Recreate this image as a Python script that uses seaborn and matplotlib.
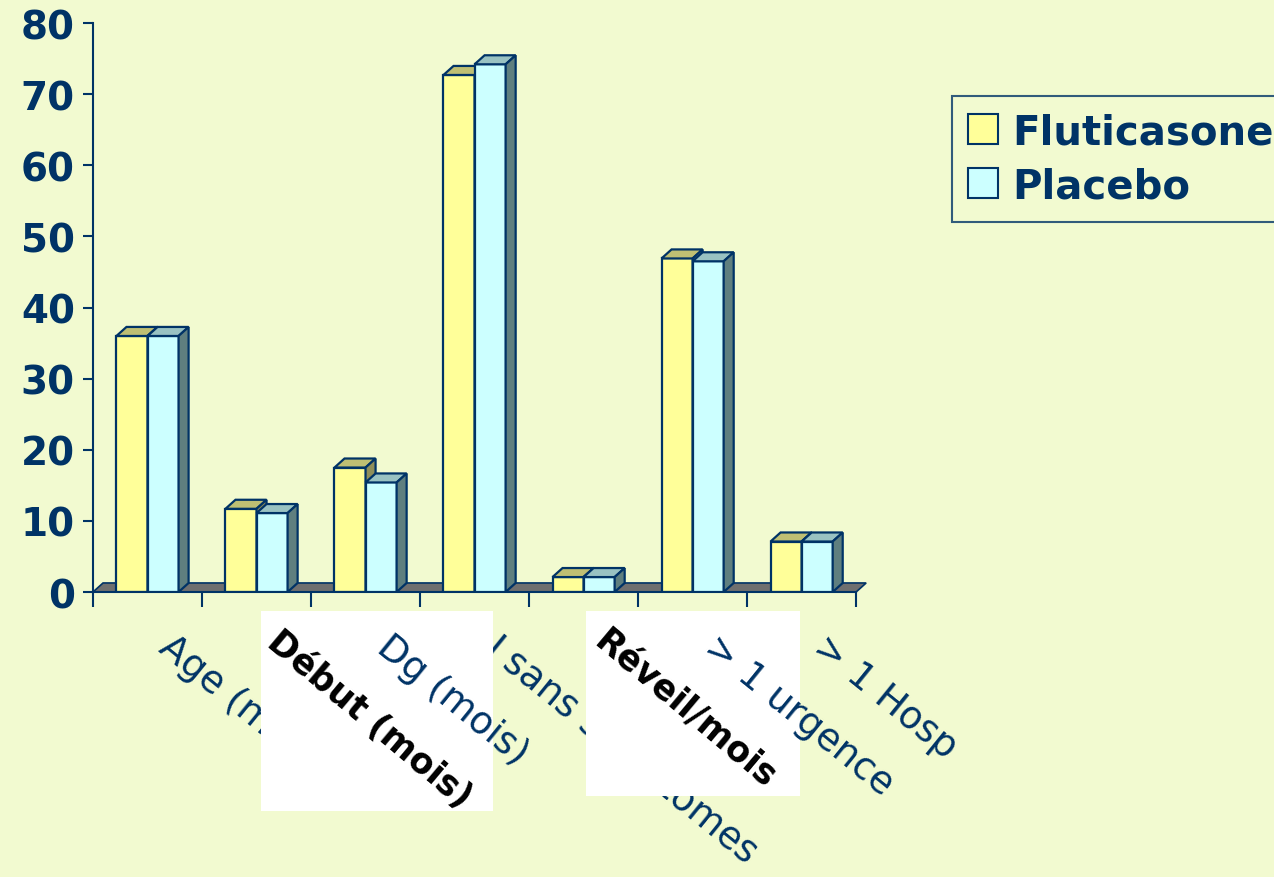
import numpy as np
import pandas as pd
import seaborn as sns
import matplotlib.pyplot as plt
from matplotlib.patches import Polygon, Rectangle, Patch

# donnees
categories = ["Age (mois)", "Début (mois)", "Dg (mois)", "J sans symptomes",
              "Réveil/mois", "> 1 urgence", "> 1 Hosp"]
fluticasone = [36.0, 11.7, 17.5, 72.7, 2.1, 46.9, 7.1]
placebo = [36.0, 11.1, 15.4, 74.2, 2.1, 46.5, 7.1]
groupes = ["Fluticasone", "Placebo"]
yticks = [0, 10, 20, 30, 40, 50, 60, 70, 80]
# labels that were pasted on white patches in the original slide
colles = ["Début (mois)", "Réveil/mois"]

fond = "#F2FAD0"
navy = "#003366"
couleurs = ["#FFFF99", "#CCFFFF"]
dessus = ["#BFBF73", "#99C2C2"]
cote = ["#8F8F5A", "#5F7F7F"]

df = pd.DataFrame({
    "cat": categories * 2,
    "val": fluticasone + placebo,
    "grp": [groupes[0]] * len(categories) + [groupes[1]] * len(categories),
})

sns.set_style("white")
plt.rcParams["font.family"] = ["DejaVu Sans"]

fig = plt.figure(figsize=(12.74, 8.78), dpi=100, facecolor=fond)
ax = fig.add_axes([0.073, 0.3246, 0.599, 0.648])
ax.set_facecolor(fond)

sns.barplot(data=df, x="cat", y="val", hue="grp", palette=couleurs,
            width=0.57, edgecolor=navy, linewidth=1.6, saturation=1,
            legend=False, ax=ax)

ax.set_xlim(-0.5, len(categories) - 0.5)
ax.set_ylim(0, 80)

# fake 3D: depth offset in data units
dx, dy = 0.092, 1.27

# floor
sol = Polygon([(-0.5, 0), (len(categories) - 0.5, 0),
               (len(categories) - 0.5 + dx, dy), (-0.5 + dx, dy)],
              closed=True, facecolor="#6F6F6F", edgecolor=navy, lw=1.2,
              zorder=1.5, clip_on=False)
ax.add_patch(sol)

n = len(categories)
for i, p in enumerate(ax.patches[:2 * n]):
    g = i // n
    z = 2 + g
    p.set_zorder(z)
    x0, w, h = p.get_x(), p.get_width(), p.get_height()
    top = Polygon([(x0, h), (x0 + w, h), (x0 + w + dx, h + dy), (x0 + dx, h + dy)],
                  closed=True, facecolor=dessus[g], edgecolor=navy, lw=1.6,
                  zorder=z + 0.1, clip_on=False)
    side = Polygon([(x0 + w, 0), (x0 + w + dx, dy), (x0 + w + dx, h + dy), (x0 + w, h)],
                   closed=True, facecolor=cote[g], edgecolor=navy, lw=1.6,
                   zorder=z + 0.1, clip_on=False)
    ax.add_patch(top)
    ax.add_patch(side)

sns.despine(ax=ax)
ax.spines["left"].set_color(navy)
ax.spines["left"].set_linewidth(1.5)
ax.spines["bottom"].set_color(navy)
ax.spines["bottom"].set_linewidth(1.5)

ax.set_yticks(yticks)
ax.set_yticklabels([str(v) for v in yticks], fontsize=28, fontweight="bold", color=navy)
ax.tick_params(axis="y", direction="out", length=7, width=1.5, color=navy, pad=6, left=True)

ax.set_xticks(np.arange(n))
ax.set_xticklabels([""] * n)
ax.set_xticks(np.arange(n + 1) - 0.5, minor=True)
ax.tick_params(axis="x", which="major", length=0)
ax.tick_params(axis="x", which="minor", direction="out", length=11, width=1.5,
               color=navy, bottom=True)
ax.set_xlabel("")
ax.set_ylabel("")

# white pasted patches (figure level, above the axes)
boites = [(0.205, 0.0752, 0.182, 0.228), (0.46, 0.0923, 0.168, 0.211)]
for bx, by, bw, bh in boites:
    fig.patches.append(Rectangle((bx, by), bw, bh, transform=fig.transFigure,
                                 facecolor="white", edgecolor="none", zorder=5))

# category labels, rotated; the label right after a pasted one sits on top of the patch
for i, c in enumerate(categories):
    if c in colles:
        continue
    z = 7 if (i > 0 and categories[i - 1] in colles) else 4
    fig.text(i + 0.25, -0.064, c, transform=ax.get_xaxis_transform(),
             rotation=-39, rotation_mode="anchor", ha="left", va="top",
             fontsize=27, color=navy, zorder=z)

# pasted black labels
for c in colles:
    i = categories.index(c)
    fig.text(i + 0.24, -0.055, c, transform=ax.get_xaxis_transform(),
             rotation=-40, rotation_mode="anchor", ha="left", va="top",
             fontsize=25, fontweight="bold", color="black", zorder=6)

# legend
poignees = [Patch(facecolor=couleurs[k], edgecolor=navy, lw=1.5) for k in range(2)]
leg = fig.legend(poignees, groupes, loc="upper left",
                 bbox_to_anchor=(952 / 1274, 1 - 97 / 878),
                 prop={"size": 29, "weight": "bold"}, labelcolor=navy,
                 frameon=True, fancybox=False, facecolor=fond, edgecolor=navy,
                 handlelength=0.75, handleheight=0.75, handletextpad=0.35,
                 labelspacing=0.35, borderpad=0.4, borderaxespad=0)
leg.get_frame().set_linewidth(1.5)

fig.savefig("out.png", dpi=100, facecolor=fond)
